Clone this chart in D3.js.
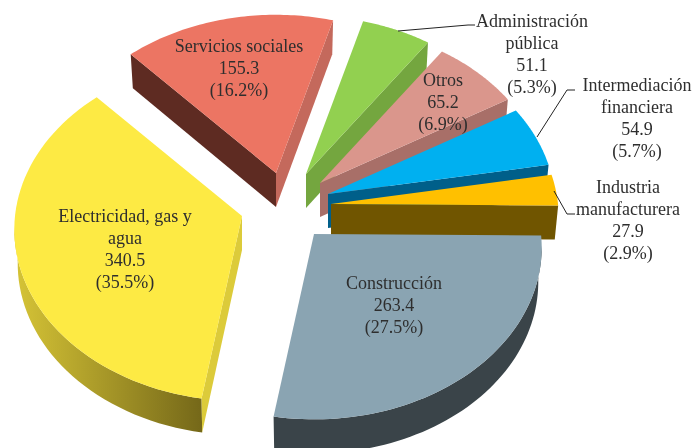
<!DOCTYPE html>
<html>
<head>
<meta charset="utf-8">
<script src="https://cdn.jsdelivr.net/npm/d3@7"></script>
<style>
  html, body { margin: 0; padding: 0; background: #fff; }
  svg { display: block; filter: blur(0.35px); }
  text { font-family: "Liberation Serif", serif; font-size: 18px; fill: #2e2e2e; text-anchor: middle; }
</style>
</head>
<body>
<svg id="pie" width="696" height="448"></svg>
<script>
// values, clockwise from the right hand side
var categories = ["Construcción", "Electricidad, gas y|agua", "Servicios sociales", "Administración|pública", "Otros", "Intermediación|financiera", "Industria|manufacturera"];
var values = [263.4, 340.5, 155.3, 51.1, 65.2, 54.9, 27.9];
var percents = ["27.5", "35.5", "16.2", "5.3", "6.9", "5.7", "2.9"];

// colours per slice: top face, start edge wall, end edge wall, rim
var topColors = ["#8aa4b2", "#fdea44", "#ec7563", "#92d050", "#da968c", "#00b0f0", "#ffc000"];
var startWalls = ["#3a4449", "#dccb3a", "#5e2b22", "#74a63f", "#a86f68", "#005f8a", "#705500"];
var endWalls = ["#3a4449", "#dccb3a", "#c4695c", "#74a63f", "#a86f68", "#005f8a", "#705500"];
var rimLeft = ["#3a4449", "#d6c436", "#5e2b22", "#74a63f", "#a86f68", "#005f8a", "#705500"];
var rimRight = ["#3a4449", "#756819", "#5e2b22", "#74a63f", "#a86f68", "#005f8a", "#705500"];

// explosion of each slice, px from the pie centre
var explodeX = [14, -58, -24, 6, 20, 28, 31];
var explodeY = [34, 16, -27, -26, -17, -6, 4];

// back to front
var drawOrder = [2, 3, 4, 5, 6, 1, 0];

// label placement
var labelX = [394, 125, 239, 532, 443, 637, 628];
var labelY = [289, 222, 52, 27, 86, 91, 193];
var leaders = [
  null, null, null,
  [[398, 31], [468, 25], [475, 25]],
  null,
  [[537, 137], [567, 90], [575, 90]],
  [[554, 191], [567, 214], [575, 214]]
];

var svg = d3.select("#pie"),
    centerX = 300,
    centerY = 200,
    depth = 34,
    bottomShrink = 0.985,
    lineHeight = 22;

// radius scale, then a small perspective so the back of the pie shrinks
var radius = d3.scaleLinear().domain([0, 1]).range([0, 227]),
    tilt = 0.752,
    persp = 0.079;

function project(r, angle) {
  var u = radius(r) * Math.sin(angle),
      v = r * Math.cos(angle),
      f = 1 / (1 + persp * v);
  return [u * f, -radius(v) * tilt * f];
}

var pie = d3.pie().sort(null)
    .startAngle(90.5 * Math.PI / 180)
    .endAngle(450.5 * Math.PI / 180);
var arcs = pie(values);

var line = d3.line();
var defs = svg.append("defs");

function shift(p, i, down) {
  return [p[0] * (down ? bottomShrink : 1) + centerX + explodeX[i],
          p[1] + centerY + explodeY[i] + (down ? depth : 0)];
}

function wall(a, b, i) {
  return line([shift(a, i), shift(b, i), shift(b, i, true), shift(a, i, true)]) + "Z";
}

drawOrder.forEach(function(i) {
  var d = arcs[i],
      steps = d3.range(0, 61).map(function(k) {
        return project(1, d.startAngle + (d.endAngle - d.startAngle) * k / 60);
      }),
      apex = project(0, 0),
      g = svg.append("g").attr("class", "slice");

  // rim, only the part that faces the viewer
  var front = steps.filter(function(p, k) {
    return (k > 0 && steps[k - 1][0] >= p[0]) || (k < 60 && steps[k + 1][0] < p[0]);
  });
  if (front.length > 1) {
    var gradId = "rim" + i;
    var grad = defs.append("linearGradient").attr("id", gradId)
        .attr("gradientUnits", "userSpaceOnUse")
        .attr("x1", shift(front[front.length - 1], i)[0]).attr("x2", shift(front[0], i)[0])
        .attr("y1", 0).attr("y2", 0);
    grad.append("stop").attr("offset", 0).attr("stop-color", rimLeft[i]);
    grad.append("stop").attr("offset", 1).attr("stop-color", rimRight[i]);
    var rimPath = front.map(function(p) { return shift(p, i); })
        .concat(front.slice().reverse().map(function(p) { return shift(p, i, true); }));
    g.append("path").attr("d", line(rimPath) + "Z").attr("fill", "url(#" + gradId + ")");
  }

  // flat edges
  var first = steps[0], last = steps[60];
  if (first[0] < apex[0]) {
    g.append("path").attr("d", wall(apex, first, i)).attr("fill", startWalls[i]);
  }
  if (apex[0] < last[0]) {
    g.append("path").attr("d", wall(last, apex, i)).attr("fill", endWalls[i]);
  }

  // top face
  var top = [shift(apex, i)].concat(steps.map(function(p) { return shift(p, i); }));
  g.append("path").attr("d", line(top) + "Z").attr("fill", topColors[i]);
});

// leader lines
svg.selectAll(".leader")
  .data(leaders.filter(function(d) { return d; }))
  .enter().append("path")
    .attr("class", "leader")
    .attr("d", line)
    .attr("fill", "none")
    .attr("stroke", "#222")
    .attr("stroke-width", 1);

// labels
categories.forEach(function(name, i) {
  var lines = name.split("|").concat([values[i].toFixed(1), "(" + percents[i] + "%)"]);
  var t = svg.append("text").attr("class", "label");
  lines.forEach(function(s, k) {
    t.append("tspan")
      .attr("x", labelX[i])
      .attr("y", labelY[i] + k * lineHeight)
      .text(s);
  });
});
</script>
</body>
</html>
